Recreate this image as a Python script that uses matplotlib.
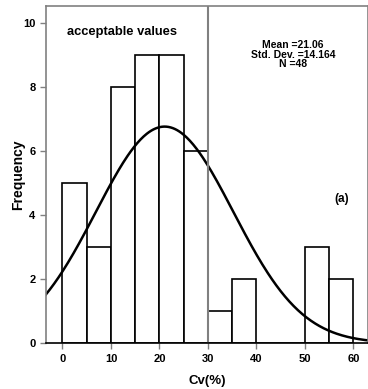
import numpy as np
import matplotlib.pyplot as plt

plt.rcParams['font.family'] = 'Liberation Sans'
plt.rcParams['font.weight'] = 'bold'

bin_edges = [0, 5, 10, 15, 20, 25, 30, 35, 40, 45, 50, 55, 60]
counts = [5, 3, 8, 9, 9, 6, 1, 2, 0, 0, 3, 2]
mean = 21.06
std = 14.164
n = 48

fig = plt.figure(figsize=(3.68, 3.89), dpi=100)
ax = fig.add_axes([0.125, 0.118, 0.875, 0.867])

width = bin_edges[1] - bin_edges[0]
ax.bar(bin_edges[:-1], counts, width=width, align='edge',
       color='white', edgecolor='black', linewidth=1.2)

# fitted normal curve scaled to counts
xs = np.linspace(-3.5, 63, 300)
ys = n * width / (std * np.sqrt(2 * np.pi)) * np.exp(-0.5 * ((xs - mean) / std) ** 2)
ax.plot(xs, ys, color='black', linewidth=1.8)

ax.axvline(30, color='#808080', linewidth=1.5)

ax.set_xlim(-3.4, 63)
ax.set_ylim(0, 10.53)
ax.set_xticks(range(0, 61, 10))
ax.set_yticks(range(0, 11, 2))
ax.tick_params(labelsize=8, length=4, color='#808080', width=1)
for s in ax.spines.values():
    s.set_color('#808080')
    s.set_linewidth(1.2)
ax.spines['bottom'].set_color('black')

ax.set_xlabel('Cv(%)', fontsize=9.5, fontweight='bold', labelpad=8)
ax.set_ylabel('Frequency', fontsize=10, fontweight='bold')
ax.yaxis.set_label_coords(-0.066, 0.5)

ax.text(1, 9.72, 'acceptable values', fontsize=9.3, fontweight='bold', va='center')
ax.text(47.5, 9.0, 'Mean =21.06\nStd. Dev. =14.164\nN =48', fontsize=7.5,
        fontweight='bold', ha='center', va='center', linespacing=0.95)
ax.text(57.5, 4.5, '(a)', fontsize=8.5, fontweight='bold', ha='center', va='center')

fig.savefig('out.png', dpi=100)
